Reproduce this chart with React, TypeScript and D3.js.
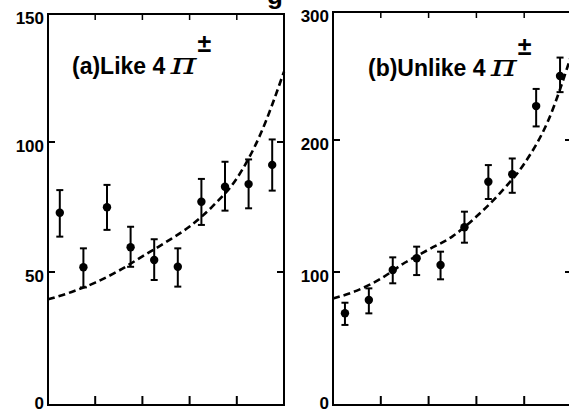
import React from 'react';
import * as d3 from 'd3';

// ---- data ----
const binCenters = [0.25, 0.75, 1.25, 1.75, 2.25, 2.75, 3.25, 3.75, 4.25, 4.75];
const xTicks = [1, 2, 3, 4];
const curveX = [0, 0.5, 1, 1.5, 2, 2.5, 3, 3.5, 4, 4.5, 5];

const likeValues = [72.8, 51.8, 74.9, 59.5, 54.6, 52.0, 77.0, 82.8, 83.8, 91.2];
const likeLow = [63.6, 44.2, 66.2, 52.0, 47.0, 44.5, 68.1, 73.6, 74.5, 81.3];
const likeHigh = [81.5, 59.1, 83.5, 67.4, 62.6, 59.1, 85.8, 92.4, 93.3, 101.0];
const likeCurve = [39.7, 42.5, 46, 50.5, 56, 61.5, 67.5, 75.5, 86, 103, 127.5];
const likeYTicks = [0, 50, 100, 150];

const unlikeValues = [69, 79, 101.5, 110.4, 105.3, 133.9, 168.4, 174, 226.5, 250];
const unlikeLow = [60.2, 68.9, 91.5, 97.7, 94.5, 122.2, 155.3, 160, 210.6, 237.4];
const unlikeHigh = [76.9, 87.7, 111.1, 119.2, 115.4, 145.7, 181, 186, 239.9, 264.4];
const unlikeCurve = [80, 86, 95, 107, 117, 127, 142, 160, 182, 215, 268];
const unlikeYTicks = [0, 100, 200, 300];

const titleFragment = 'g';
const labelA = '(a)Like 4';
const labelB = '(b)Unlike 4';
const piText = 'π';
const pmText = '±';

const FONT = '"Liberation Sans", Arial, sans-serif';

type PanelProps = {
  xRange: [number, number];
  yRange: number[];
  yTicks: number[];
  values: number[];
  low: number[];
  high: number[];
  curve: number[];
  label: string;
  labelX: number;
  labelY: number;
  piWidth: number;
  pmY: number;
};

function Panel(p: PanelProps) {
  const x = d3.scaleLinear().domain([0, 5]).range(p.xRange);
  const y = d3.scaleLinear().domain(p.yTicks).range(p.yRange);
  const [x0, x1] = p.xRange;
  const yb = y(p.yTicks[0]);
  const yt = y(p.yTicks[p.yTicks.length - 1]);
  const tickLen = 7;
  const line = d3
    .line<number>()
    .x((_, i) => x(curveX[i]))
    .y((d) => y(d))
    .curve(d3.curveMonotoneX);

  const labelEl = React.useRef<SVGTextElement>(null);
  const [labelEnd, setLabelEnd] = React.useState(p.labelX + 100);
  React.useEffect(() => {
    if (labelEl.current) {
      const bb = labelEl.current.getBBox();
      setLabelEnd(bb.x + bb.width);
    }
  }, []);

  return (
    <g>
      <rect x={x0} y={yt} width={x1 - x0} height={yb - yt} fill="none" stroke="#000" strokeWidth={2} />
      {xTicks.map((t) => (
        <g key={'xt' + t}>
          <line x1={x(t)} x2={x(t)} y1={yb} y2={yb - 9} stroke="#000" strokeWidth={2} />
          <line x1={x(t)} x2={x(t)} y1={yt} y2={yt + 6} stroke="#000" strokeWidth={1.5} />
        </g>
      ))}
      {p.yTicks.slice(1, -1).map((t) => (
        <g key={'yt' + t}>
          <line x1={x0} x2={x0 + tickLen} y1={y(t)} y2={y(t)} stroke="#000" strokeWidth={2} />
          <line x1={x1} x2={x1 - tickLen} y1={y(t)} y2={y(t)} stroke="#000" strokeWidth={2} />
        </g>
      ))}
      {p.yTicks.map((t) => (
        <text
          key={'yl' + t}
          x={x0 - 4}
          y={Math.min(y(t) + 6, 405)}
          textAnchor="end"
          dominantBaseline="middle"
          fontFamily={FONT}
          fontWeight="bold"
          fontSize={17}
        >
          {t}
        </text>
      ))}
      <path d={line(p.curve) || ''} fill="none" stroke="#000" strokeWidth={2.6} strokeDasharray="7,4" />
      {p.values.map((v, i) => {
        const cx = x(binCenters[i]);
        return (
          <g key={'pt' + i}>
            <line x1={cx} x2={cx} y1={y(p.low[i])} y2={y(p.high[i])} stroke="#000" strokeWidth={2} />
            <line x1={cx - 3.5} x2={cx + 3.5} y1={y(p.low[i])} y2={y(p.low[i])} stroke="#000" strokeWidth={2} />
            <line x1={cx - 3.5} x2={cx + 3.5} y1={y(p.high[i])} y2={y(p.high[i])} stroke="#000" strokeWidth={2} />
            <circle cx={cx} cy={y(v)} r={4.2} fill="#000" />
          </g>
        );
      })}
      <text ref={labelEl} x={p.labelX} y={p.labelY} fontFamily={FONT} fontWeight="bold" fontSize={23}>
        {p.label}
      </text>
      <text
        x={labelEnd + 5}
        y={p.labelY}
        fontFamily='"DejaVu Serif", serif'
        fontStyle="italic"
        fontSize={30}
        textLength={p.piWidth}
        lengthAdjust="spacingAndGlyphs"
      >
        {piText}
      </text>
      <text x={labelEnd + 6 + p.piWidth} y={p.pmY} fontFamily={FONT} fontWeight="bold" fontSize={25}>
        {pmText}
      </text>
    </g>
  );
}

export default function App() {
  return (
    <svg
      width={569}
      height={412}
      style={{ position: 'absolute', left: 0, top: 0, background: '#fff' }}
    >
      <rect x={0} y={0} width={569} height={412} fill="#fff" />
      <text x={267} y={4} fontFamily={FONT} fontWeight="bold" fontSize={26}>
        {titleFragment}
      </text>
      <Panel
        xRange={[48, 284]}
        yRange={[405, 272, 142, 14]}
        yTicks={likeYTicks}
        values={likeValues}
        low={likeLow}
        high={likeHigh}
        curve={likeCurve}
        label={labelA}
        labelX={72}
        labelY={74}
        piWidth={26}
        pmY={52}
      />
      <Panel
        xRange={[333, 572]}
        yRange={[405, 272, 140, 12]}
        yTicks={unlikeYTicks}
        values={unlikeValues}
        low={unlikeLow}
        high={unlikeHigh}
        curve={unlikeCurve}
        label={labelB}
        labelX={368}
        labelY={76}
        piWidth={26}
        pmY={55}
      />
    </svg>
  );
}
